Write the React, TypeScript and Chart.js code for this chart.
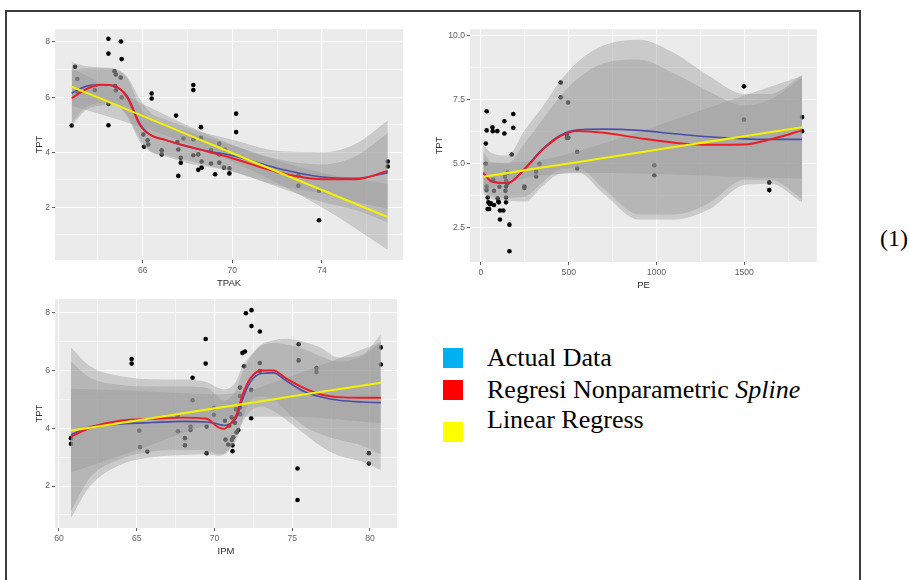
import React, { useEffect, useRef } from "react";
import { Chart, registerables } from "chart.js";

Chart.register(...registerables);

// ---------- Panel 1: TPAK vs TPT ----------
const tpakX = [62.83,62.98,63.08,63.08,63.86,64.47,64.47,64.47,64.47,64.74,64.80,64.77,64.80,65.03,65.06,65.02,65.06,66.03,66.06,66.22,66.25,66.40,66.40,66.85,66.85,67.49,67.55,67.59,67.59,67.70,67.70,67.82,68.26,68.26,68.26,68.26,68.48,68.48,68.60,68.60,68.63,68.63,69.05,69.05,69.23,69.42,69.42,69.42,69.63,69.68,69.87,69.87,70.17,70.17,72.95,72.95,73.87,73.87,76.94,76.94];
const tpakY = [4.97,7.10,6.66,6.20,6.26,8.12,7.58,5.75,4.98,6.94,6.82,6.40,6.24,8.02,7.38,6.71,5.99,4.64,4.20,4.43,4.28,6.13,5.95,4.07,3.92,5.33,4.37,4.10,3.14,3.80,3.62,4.50,6.44,6.26,4.46,3.89,3.92,3.36,4.91,4.52,3.66,3.44,4.07,3.59,3.20,4.31,3.92,3.62,3.44,4.10,3.42,3.23,5.40,4.73,3.16,2.78,2.60,1.53,3.66,3.48];
const tpakGrid = [62.83,63.5,64.2,64.7,65.3,65.9,66.4,67.0,68.0,69.0,70.0,72.0,74.0,75.5,76.94];
const tpakSpline = [5.96,6.30,6.45,6.42,6.00,4.95,4.60,4.45,4.22,4.00,3.78,3.28,3.02,3.02,3.32];
const tpakSplineLo = [4.95,5.55,5.70,5.75,5.30,4.35,4.00,3.90,3.70,3.50,3.30,2.80,2.50,2.20,1.95];
const tpakSplineHi = [6.95,7.05,7.05,7.00,6.70,5.60,5.20,5.00,4.75,4.50,4.25,3.75,3.55,3.85,4.70];
const tpakLoess = [6.14,6.40,6.45,6.40,6.05,5.00,4.60,4.45,4.20,4.02,3.88,3.42,3.10,3.05,3.26];
const tpakLoessLo = [5.05,5.65,5.80,5.80,5.35,4.45,4.00,3.85,3.60,3.45,3.30,2.75,2.20,1.90,1.45];
const tpakLoessHi = [7.28,7.12,7.08,7.05,6.75,5.90,5.40,5.20,4.90,4.65,4.45,4.05,4.00,4.30,5.15];
const tpakLmX = [62.83,66.0,69.9,74.0,76.94];
const tpakLm = [6.38,5.32,4.00,2.63,1.645];
const tpakLmLo = [5.70,4.90,3.70,2.00,0.45];
const tpakLmHi = [7.05,5.75,4.30,3.25,2.85];
const tpakXMajor = [66,70,74];
const tpakXMinor = [64,68,72,76];
const tpakYMajor = [2,4,6,8];
const tpakYMinor = [1,3,5,7];

// ---------- Panel 2: PE vs TPT ----------
const peX = [27,32,32,27,32,32,38,42,38,46,51,57,65,67,70,74,74,93,95,99,101,105,108,108,127,133,133,137,143,143,139,143,143,152,150,162,162,175,184,184,247,247,314,314,333,454,454,496,489,489,498,548,548,987,987,1498,1498,1642,1642,1829,1829];
const peY = [5.77,7.03,6.28,4.98,4.09,3.95,3.66,3.47,3.21,3.21,3.40,3.43,6.40,6.25,4.35,3.92,3.37,6.25,3.63,3.50,3.47,4.08,2.80,3.15,3.15,6.64,6.16,4.47,4.31,4.09,3.92,3.66,3.47,4.63,4.21,2.60,1.56,5.34,6.92,6.38,4.09,4.03,4.67,4.48,4.98,8.15,7.57,7.37,6.12,5.99,5.99,5.44,4.79,4.92,4.53,8.00,6.70,4.25,3.95,6.80,6.25];
const peGrid = [13,60,150,250,350,450,550,700,900,1100,1300,1500,1650,1829];
const peSpline = [4.63,4.28,4.22,4.78,5.52,6.05,6.25,6.19,5.98,5.80,5.72,5.73,5.93,6.28];
const peSplineLo = [3.90,3.70,3.65,3.70,4.25,4.75,4.80,4.00,3.00,3.00,3.45,4.35,4.35,3.60];
const peSplineHi = [5.45,5.05,5.00,5.80,6.70,7.60,8.30,8.90,9.05,8.50,7.80,7.25,7.50,8.35];
const peLoess = [4.60,4.30,4.22,4.80,5.55,6.08,6.30,6.33,6.28,6.15,6.03,5.95,5.93,5.93];
const peLoessLo = [3.80,3.60,3.53,3.50,4.10,4.60,4.65,3.80,2.80,2.80,3.20,4.15,4.20,3.47];
const peLoessHi = [5.70,5.40,5.30,6.30,7.20,8.20,8.95,9.60,9.82,9.30,8.40,7.70,7.70,8.45];
const peLmX = [13,330,700,1100,1500,1829];
const peLm = [4.47,4.81,5.20,5.63,6.05,6.40];
const peLmLo = [3.95,4.51,4.62,4.56,4.46,4.40];
const peLmHi = [4.99,5.11,5.78,6.70,7.64,8.40];
const peXMajor = [0,500,1000,1500];
const peXMinor = [250,750,1250,1750];
const peYMajor = [2.5,5,7.5,10];
const peYMinor = [3.75,6.25,8.75];

// ---------- Panel 3: IPM vs TPT ----------
const ipmX = [60.77,60.77,64.67,64.67,65.16,65.21,65.68,67.65,67.63,68.10,68.10,68.46,68.46,68.59,68.59,69.43,69.43,69.49,69.49,69.96,69.96,70.67,70.71,70.88,70.95,71.10,71.12,71.16,71.16,71.20,71.31,71.38,71.42,71.53,71.64,71.64,71.64,71.64,71.80,71.96,72.02,72.38,72.38,71.90,72.36,72.36,72.92,72.92,72.92,75.34,75.34,75.41,75.41,76.56,76.56,79.93,79.93,80.70,80.70];
const ipmY = [3.66,3.46,6.40,6.24,3.92,3.35,3.20,3.90,4.43,3.66,3.41,4.06,3.94,5.75,4.97,7.09,6.24,4.06,3.14,4.70,4.47,4.26,3.61,3.44,4.09,4.38,3.60,3.41,3.21,3.69,4.19,4.66,3.86,3.94,5.12,5.41,4.72,4.49,6.61,6.66,7.98,8.09,7.54,6.15,5.33,4.35,7.35,6.26,5.98,2.61,1.52,6.91,6.35,6.09,5.95,3.14,2.78,6.80,6.21];
const ipmGrid = [60.77,62,64,66,68,69.5,70.2,70.6,71.0,71.4,71.8,72.3,73.0,73.8,74.6,75.7,76.8,78.0,79.5,80.7];
const ipmSpline = [3.71,4.02,4.27,4.33,4.37,4.33,4.05,3.98,4.15,4.45,5.15,5.72,6.00,6.00,5.73,5.41,5.18,5.08,5.06,5.06];
const ipmSplineLo = [1.15,2.30,2.95,3.20,3.25,3.25,3.10,3.10,3.30,3.60,4.30,4.95,5.10,5.00,4.60,4.10,3.80,3.60,3.40,3.10];
const ipmSplineHi = [6.30,5.75,5.50,5.45,5.45,5.40,5.10,4.95,5.05,5.35,5.95,6.45,6.85,6.95,6.90,6.75,6.50,6.30,6.50,7.00];
const ipmLoess = [3.78,4.05,4.15,4.20,4.24,4.22,4.15,4.10,4.15,4.35,5.00,5.60,5.90,5.92,5.65,5.29,5.09,4.97,4.91,4.89];
const ipmLoessLo = [0.90,2.00,2.75,3.00,3.08,3.10,3.05,3.10,3.30,3.70,4.20,4.60,4.75,4.60,4.30,3.85,3.40,3.05,2.85,2.55];
const ipmLoessHi = [6.80,6.15,5.80,5.70,5.69,5.60,5.40,5.35,5.40,5.65,6.15,6.50,6.90,7.05,7.10,7.00,6.80,6.45,6.55,7.25];
const ipmLmX = [60.77,65,70,71.5,75,80.7];
const ipmLm = [3.92,4.27,4.69,4.81,5.11,5.58];
const ipmLmLo = [2.47,3.25,4.20,4.40,4.40,4.18];
const ipmLmHi = [5.37,5.30,5.18,5.22,5.82,6.98];
const ipmXMajor = [60,65,70,75,80];
const ipmXMinor = [62.5,67.5,72.5,77.5];
const ipmYMajor = [2,4,6,8];
const ipmYMinor = [1,3,5,7];

// ---------- Legend ----------
const legendLabels = ["Actual Data", "Regresi Nonparametric ", "Linear Regress"];
const legendItalic = ["", "Spline", ""];
const legendColors = ["#00B0F0", "#FF0000", "#FFFF00"];

const RIBBON = "rgba(153,153,153,0.4)";
const SANS = "'Liberation Sans', Arial, sans-serif";
const SERIF = "'Liberation Serif', 'Times New Roman', serif";

function pts(xs: number[], ys: number[]) {
  return xs.map((x, i) => ({ x, y: ys[i] }));
}

function ribbon(xs: number[], lo: number[], hi: number[]) {
  return [
    {
      type: "line", data: pts(xs, lo), borderColor: "rgba(0,0,0,0)", borderWidth: 0,
      pointRadius: 0, fill: false, cubicInterpolationMode: "monotone", order: 5,
    },
    {
      type: "line", data: pts(xs, hi), borderColor: "rgba(0,0,0,0)", borderWidth: 0,
      pointRadius: 0, fill: "-1", backgroundColor: RIBBON, cubicInterpolationMode: "monotone", order: 5,
    },
  ];
}

function line(xs: number[], ys: number[], color: string, width: number, order: number) {
  return {
    type: "line", data: pts(xs, ys), borderColor: color, borderWidth: width,
    pointRadius: 0, fill: false, cubicInterpolationMode: "monotone", order,
  };
}

const bgPlugin = {
  id: "panelBg",
  beforeDraw(chart: any) {
    const { ctx, chartArea } = chart;
    if (!chartArea) return;
    ctx.save();
    ctx.fillStyle = "#EBEBEB";
    ctx.fillRect(chartArea.left, chartArea.top, chartArea.right - chartArea.left, chartArea.bottom - chartArea.top);
    ctx.restore();
  },
};

type PanelProps = {
  left: number; top: number; plotW: number; plotH: number;
  xMin: number; xMax: number; yMin: number; yMax: number;
  xMajor: number[]; xMinor: number[]; yMajor: number[]; yMinor: number[];
  xTitle: string; yTitlePad: number; yFmt: (v: number) => string;
  px: number[]; py: number[];
  grid: number[]; spline: number[]; splineLo: number[]; splineHi: number[];
  loess: number[]; loessLo: number[]; loessHi: number[];
  lmX: number[]; lm: number[]; lmLo: number[]; lmHi: number[];
};

function axis(kind: "x" | "y", p: PanelProps) {
  const major = kind === "x" ? p.xMajor : p.yMajor;
  const minor = kind === "x" ? p.xMinor : p.yMinor;
  const isMajor = (v: any) => major.indexOf(v) >= 0;
  return {
    type: "linear",
    position: kind === "x" ? "bottom" : "left",
    min: kind === "x" ? p.xMin : p.yMin,
    max: kind === "x" ? p.xMax : p.yMax,
    bounds: "data",
    afterBuildTicks: (a: any) => {
      a.ticks = [...major, ...minor].sort((m, n) => m - n).map((v) => ({ value: v }));
    },
    afterFit: (a: any) => {
      if (kind === "x") a.height = 35; else a.width = 40;
    },
    ticks: {
      autoSkip: false, maxRotation: 0, minRotation: 0,
      padding: kind === "x" ? 2.5 : 2,
      color: "#5e5e5e",
      font: { family: SANS, size: 8.6 },
      callback: (v: any) => (isMajor(v) ? (kind === "x" ? String(v) : p.yFmt(v)) : ""),
    },
    grid: {
      color: "#FFFFFF",
      lineWidth: (ctx: any) => (ctx.tick && isMajor(ctx.tick.value) ? 1.1 : 0.55),
      tickLength: 3,
      tickWidth: 1,
      tickColor: (ctx: any) => (ctx.tick && isMajor(ctx.tick.value) ? "#555555" : "rgba(0,0,0,0)"),
    },
    border: { display: false },
    title: {
      display: true,
      text: kind === "x" ? p.xTitle : "TPT",
      color: "#2a2a2a",
      font: { family: SANS, size: 9.5 },
      padding: kind === "x" ? { top: 0, bottom: 6.3 } : { top: p.yTitlePad, bottom: 0 },
    },
  };
}

function Panel(p: PanelProps) {
  const ref = useRef<HTMLCanvasElement | null>(null);
  useEffect(() => {
    if (!ref.current) return;
    const datasets: any[] = [
      {
        type: "scatter", data: pts(p.px, p.py), pointRadius: 2.3, pointBackgroundColor: "#000000",
        pointBorderWidth: 0, borderWidth: 0, showLine: false, order: 10,
      },
      ...ribbon(p.grid, p.loessLo, p.loessHi),
      ...ribbon(p.grid, p.splineLo, p.splineHi),
      ...ribbon(p.lmX, p.lmLo, p.lmHi),
      line(p.grid, p.loess, "#4d4da6", 1.6, 3),
      line(p.grid, p.spline, "#ee1c25", 1.9, 2),
      line(p.lmX, p.lm, "#f2f200", 2.1, 1),
    ];
    const chart = new Chart(ref.current, {
      type: "scatter",
      data: { datasets },
      options: {
        animation: false,
        responsive: false,
        devicePixelRatio: 1,
        layout: { padding: { left: 0, right: 5, top: 5, bottom: 0 } },
        plugins: { legend: { display: false }, tooltip: { enabled: false } },
        scales: { x: axis("x", p), y: axis("y", p) } as any,
      } as any,
      plugins: [bgPlugin],
    } as any);
    return () => chart.destroy();
  }, []);
  return (
    <canvas
      ref={ref}
      width={p.plotW + 45}
      height={p.plotH + 40}
      style={{ position: "absolute", left: p.left, top: p.top, width: p.plotW + 45, height: p.plotH + 40 }}
    />
  );
}

export default function App() {
  const legendTops = [344.9, 376.5, 406.5];
  const squareTops = [348, 380, 422];
  return (
    <div style={{ position: "absolute", left: 0, top: 0, width: 909, height: 580, overflow: "hidden", background: "#ffffff" }}>
      <div style={{ position: "absolute", left: 5, top: 10, width: 852, height: 600, border: "2px solid #3c3c3c" }} />
      <Panel
        left={15} top={22} plotW={348} plotH={233}
        xMin={62.085} xMax={77.62} yMin={0.086} yMax={8.468}
        xMajor={tpakXMajor} xMinor={tpakXMinor} yMajor={tpakYMajor} yMinor={tpakYMinor}
        xTitle="TPAK" yTitlePad={18.3} yFmt={(v) => String(v)}
        px={tpakX} py={tpakY}
        grid={tpakGrid} spline={tpakSpline} splineLo={tpakSplineLo} splineHi={tpakSplineHi}
        loess={tpakLoess} loessLo={tpakLoessLo} loessHi={tpakLoessHi}
        lmX={tpakLmX} lm={tpakLm} lmLo={tpakLmLo} lmHi={tpakLmHi}
      />
      <Panel
        left={430} top={22} plotW={347} plotH={235}
        xMin={-62.7} xMax={1914} yMin={1.142} yMax={10.233}
        xMajor={peXMajor} xMinor={peXMinor} yMajor={peYMajor} yMinor={peYMinor}
        xTitle="PE" yTitlePad={3.3} yFmt={(v) => v.toFixed(1)}
        px={peX} py={peY}
        grid={peGrid} spline={peSpline} splineLo={peSplineLo} splineHi={peSplineHi}
        loess={peLoess} loessLo={peLoessLo} loessHi={peLoessHi}
        lmX={peLmX} lm={peLm} lmLo={peLmLo} lmHi={peLmHi}
      />
      <Panel
        left={15} top={292} plotW={342} plotH={231}
        xMin={59.74} xMax={81.74} yMin={0.55} yMax={8.47}
        xMajor={ipmXMajor} xMinor={ipmXMinor} yMajor={ipmYMajor} yMinor={ipmYMinor}
        xTitle="IPM" yTitlePad={18.3} yFmt={(v) => String(v)}
        px={ipmX} py={ipmY}
        grid={ipmGrid} spline={ipmSpline} splineLo={ipmSplineLo} splineHi={ipmSplineHi}
        loess={ipmLoess} loessLo={ipmLoessLo} loessHi={ipmLoessHi}
        lmX={ipmLmX} lm={ipmLm} lmLo={ipmLmLo} lmHi={ipmLmHi}
      />
      {legendLabels.map((lab, i) => (
        <React.Fragment key={lab}>
          <div style={{ position: "absolute", left: 443, top: squareTops[i], width: 20, height: 20, background: legendColors[i] }} />
          <div style={{ position: "absolute", left: 487, top: legendTops[i], fontFamily: SERIF, fontSize: 26, lineHeight: "26px", color: "#000", whiteSpace: "nowrap" }}>
            {lab}
            {legendItalic[i] ? <i>{legendItalic[i]}</i> : null}
          </div>
        </React.Fragment>
      ))}
      <div style={{ position: "absolute", left: 880, top: 225.6, fontFamily: SERIF, fontSize: 24, lineHeight: "24px", color: "#000", whiteSpace: "nowrap" }}>
        (1)
      </div>
    </div>
  );
}
